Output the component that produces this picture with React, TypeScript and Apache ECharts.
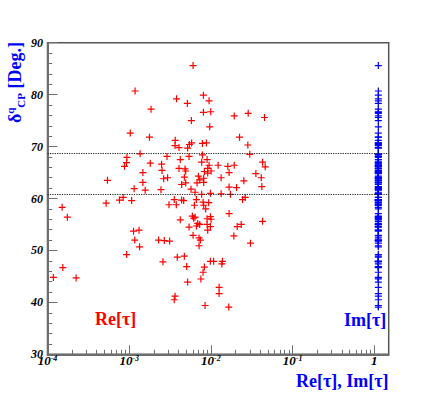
import React, { useEffect, useRef } from 'react';
import * as echarts from 'echarts';

// Re[tau] of each point (x of red markers)
const reTau = [
  0.00605, 0.00118, 0.0038, 0.00515, 0.0081, 0.0095, 0.00185, 0.00577, 0.0081, 0.00995,
  0.0193, 0.0286, 0.0453, 0.00967, 0.00103, 0.00177, 0.0224, 0.00366, 0.00364, 0.00407,
  0.00519, 0.00545, 0.00581, 0.00787, 0.00881, 0.0283, 0.00136, 0.0299, 0.000938, 0.0029,
  0.00787, 0.0054, 0.00422, 0.00898, 0.000927, 0.000876, 0.00181, 0.00249, 0.00252, 0.00771,
  0.0095, 0.00914, 0.01225, 0.0161, 0.0193, 0.0429, 0.0462, 0.00407, 0.00482, 0.00491,
  0.00147, 0.00832, 0.00914, 0.01005, 0.0167, 0.0355, 0.000542, 0.00264, 0.00295, 0.00473,
  0.00491, 0.00438, 0.00703, 0.00729, 0.00677, 0.00816, 0.00816, 0.01334, 0.0253, 0.0413,
  0.00147, 0.00115, 0.00157, 0.00245, 0.00571, 0.0064, 0.00771, 0.00986, 0.0167, 0.0206,
  0.042, 0.01734, 0.000844, 0.01334, 0.00356, 0.00438, 0.00464, 0.00076, 0.00107, 0.000522,
  0.000151, 0.000175, 0.00307, 0.00377, 0.00628, 0.00664, 0.00802, 0.00816, 0.0094, 0.00863,
  0.0244, 0.0263, 0.0167, 0.00593, 0.00615, 0.0064, 0.00898, 0.00986, 0.01005, 0.00422,
  0.00689, 0.00729, 0.00664, 0.00898, 0.00986, 0.00914, 0.0054, 0.021, 0.0235, 0.0429,
  0.00605, 0.00716, 0.00743, 0.0191, 0.00716, 0.0305, 0.00113, 0.00132, 0.00117, 0.00134,
  0.00229, 0.00269, 0.00312, 0.000931, 0.00259, 0.00388, 0.00473, 0.00505, 0.00986, 0.0108,
  0.01384, 0.0136, 0.00832, 0.00802, 0.00754, 0.00519, 0.0126, 0.0126, 0.00364, 0.00356,
  0.00849, 0.01655, 0.000154, 0.000118, 0.000224,
];

// delta^q_CP of each point, in degrees
const deltaCP = [
  85.6, 80.7, 79.2, 78.3, 79.9, 78.8, 77.2, 75.0, 76.6, 76.7,
  75.9, 76.4, 75.6, 73.8, 72.6, 71.8, 71.8, 71.2, 70.2, 69.8,
  69.7, 70.4, 70.7, 70.6, 70.7, 70.3, 68.6, 68.5, 67.9, 68.1,
  68.4, 68.1, 67.5, 67.5, 66.9, 66.2, 66.8, 66.6, 65.4, 67.0,
  66.4, 65.8, 66.4, 66.2, 66.4, 67.0, 66.1, 65.8, 65.7, 65.3,
  65.0, 65.2, 64.9, 65.3, 65.0, 64.8, 63.5, 63.8, 64.0, 64.1,
  63.0, 62.7, 64.3, 63.6, 63.0, 63.9, 63.1, 64.0, 63.4, 64.0,
  63.1, 61.9, 61.6, 61.7, 61.8, 61.2, 60.8, 61.0, 62.2, 62.1,
  62.3, 60.8, 60.2, 60.9, 59.8, 59.7, 59.6, 59.7, 59.6, 59.1,
  58.3, 56.4, 58.8, 58.8, 58.7, 59.8, 59.3, 58.7, 59.2, 58.0,
  59.8, 60.2, 57.1, 56.6, 56.2, 56.4, 56.1, 56.5, 56.0, 55.9,
  55.2, 55.0, 54.7, 55.0, 54.6, 53.9, 54.5, 54.6, 55.0, 55.6,
  52.9, 52.4, 52.0, 52.8, 50.9, 51.4, 53.7, 53.9, 52.0, 50.7,
  52.0, 51.9, 51.8, 49.2, 47.8, 48.7, 48.9, 46.9, 47.9, 47.9,
  47.9, 47.4, 46.8, 45.8, 44.5, 43.9, 42.9, 41.7, 41.2, 40.5,
  39.4, 39.1, 46.7, 44.8, 44.7,
];

// Im[tau] position of the blue column
const imTauPosition = 1.12;

const xMajorTicks = [1e-4, 1e-3, 1e-2, 1e-1, 1];
const xMinorTicks = [
  2e-4, 3e-4, 4e-4, 5e-4, 6e-4, 7e-4, 8e-4, 9e-4,
  2e-3, 3e-3, 4e-3, 5e-3, 6e-3, 7e-3, 8e-3, 9e-3,
  2e-2, 3e-2, 4e-2, 5e-2, 6e-2, 7e-2, 8e-2, 9e-2,
  2e-1, 3e-1, 4e-1, 5e-1, 6e-1, 7e-1, 8e-1, 9e-1,
];
const referenceLines = [68.7, 60.85];

const FONT = '"Liberation Serif", "Times New Roman", serif';
const PLUS = 'path://M2.9,0h1.2v7h-1.2z M0,2.9h7v1.2h-7z';
const AXIS_GRAY = '#6e6e6e';

export default function App() {
  const ref = useRef<HTMLDivElement>(null);

  useEffect(() => {
    if (!ref.current) return;
    const chart = echarts.init(ref.current, null, { renderer: 'svg' });

    const redData = reTau.map((x, i) => [x, deltaCP[i]]);
    const blueData = deltaCP.map((d) => [imTauPosition, d]);

    const labelFont = {
      fontFamily: FONT,
      fontWeight: 'bold' as const,
      fontStyle: 'italic' as const,
      color: '#000',
    };

    chart.setOption({
      animation: false,
      backgroundColor: '#ffffff',
      grid: {
        left: 47.5,
        top: 42.7,
        right: 47.3,
        bottom: 43.7,
        show: true,
        borderColor: '#555',
        borderWidth: 1.5,
        outerBoundsMode: 'none',
        containLabel: false,
      },
      xAxis: [
        {
          type: 'log',
          logBase: 10,
          min: 1e-4,
          max: 1.5,
          position: 'bottom',
          axisLine: { show: true, onZero: false, lineStyle: { color: AXIS_GRAY, width: 2 } },
          axisTick: {
            show: true,
            inside: true,
            length: 9,
            customValues: xMajorTicks,
            lineStyle: { color: AXIS_GRAY, width: 1 },
          },
          axisLabel: {
            show: true,
            customValues: xMajorTicks,
            margin: 0,
            formatter: (v: number) => {
              const e = Math.round(Math.log10(v));
              if (Math.abs(Math.log10(v) - e) > 1e-6) return '';
              if (e === 0) return '{b|1}';
              return `{b|10}{s|${e}}`;
            },
            rich: {
              b: { ...labelFont, fontSize: 13, lineHeight: 13, padding: [3, 0, 0, 0], verticalAlign: 'bottom' },
              s: { ...labelFont, fontSize: 8, lineHeight: 8, verticalAlign: 'top' },
            },
          },
          splitLine: { show: false },
        },
        {
          type: 'log',
          logBase: 10,
          min: 1e-4,
          max: 1.5,
          position: 'bottom',
          axisLine: { show: false },
          axisTick: {
            show: true,
            inside: true,
            length: 4.5,
            customValues: xMinorTicks,
            lineStyle: { color: AXIS_GRAY, width: 1 },
          },
          axisLabel: { show: false },
          splitLine: { show: false },
        },
      ],
      yAxis: {
        type: 'value',
        min: 30,
        max: 90,
        interval: 10,
        axisLine: { show: true, onZero: false, lineStyle: { color: AXIS_GRAY, width: 2 } },
        axisTick: { show: true, inside: true, length: 10, lineStyle: { color: AXIS_GRAY, width: 1 } },
        minorTick: { show: true, splitNumber: 5, length: 4.7, lineStyle: { color: AXIS_GRAY, width: 1 } },
        axisLabel: {
          ...labelFont,
          fontSize: 12,
          margin: 4.5,
          padding: [3, 0, 0, 0],
          showMinLabel: true,
          showMaxLabel: true,
        },
        splitLine: { show: false },
        minorSplitLine: { show: false },
      },
      series: [
        {
          type: 'scatter',
          xAxisIndex: 0,
          symbol: PLUS,
          symbolSize: 7,
          itemStyle: { color: '#ff0000', opacity: 1 },
          data: redData,
          markLine: {
            silent: true,
            symbol: 'none',
            label: { show: false },
            lineStyle: { color: '#222', width: 1.2, type: [1.2, 1.2] },
            data: referenceLines.map((v) => ({ yAxis: v })),
          },
        },
        {
          type: 'scatter',
          xAxisIndex: 0,
          symbol: PLUS,
          symbolSize: 7,
          itemStyle: { color: '#0000ff', opacity: 1 },
          data: blueData,
        },
      ],
      graphic: [
        {
          type: 'text',
          x: 15,
          y: 42,
          rotation: Math.PI / 2,
          style: {
            text: '{d|δ}{sup|q}{sub|CP}{d| [Deg.]}',
            align: 'right',
            verticalAlign: 'middle',
            fill: '#0000ff',
            rich: {
              d: { fontFamily: FONT, fontWeight: 'bold', fontSize: 18, lineHeight: 22, fill: '#0000ff' },
              sup: { fontFamily: FONT, fontWeight: 'bold', fontSize: 11, lineHeight: 11, verticalAlign: 'top', fill: '#0000ff' },
              sub: { fontFamily: FONT, fontWeight: 'bold', fontSize: 11, lineHeight: 11, verticalAlign: 'bottom', fill: '#0000ff' },
            },
          },
        },
        {
          type: 'text',
          x: 388.5,
          y: 381,
          style: {
            text: 'Re[τ], Im[τ]',
            fontFamily: FONT,
            fontWeight: 'bold',
            fontSize: 18,
            fill: '#0000ff',
            align: 'right',
            verticalAlign: 'middle',
          },
        },
        {
          type: 'text',
          x: 95,
          y: 319,
          style: {
            text: 'Re[τ]',
            fontFamily: FONT,
            fontWeight: 'bold',
            fontSize: 18,
            fill: '#ff0000',
            align: 'left',
            verticalAlign: 'middle',
          },
        },
        {
          type: 'text',
          x: 344,
          y: 320,
          style: {
            text: 'Im[τ]',
            fontFamily: FONT,
            fontWeight: 'bold',
            fontSize: 18,
            fill: '#0000ff',
            align: 'left',
            verticalAlign: 'middle',
          },
        },
      ],
    });

    return () => chart.dispose();
  }, []);

  return (
    <div
      ref={ref}
      style={{ position: 'fixed', left: 0, top: 0, width: 436, height: 398, background: '#fff' }}
    />
  );
}
